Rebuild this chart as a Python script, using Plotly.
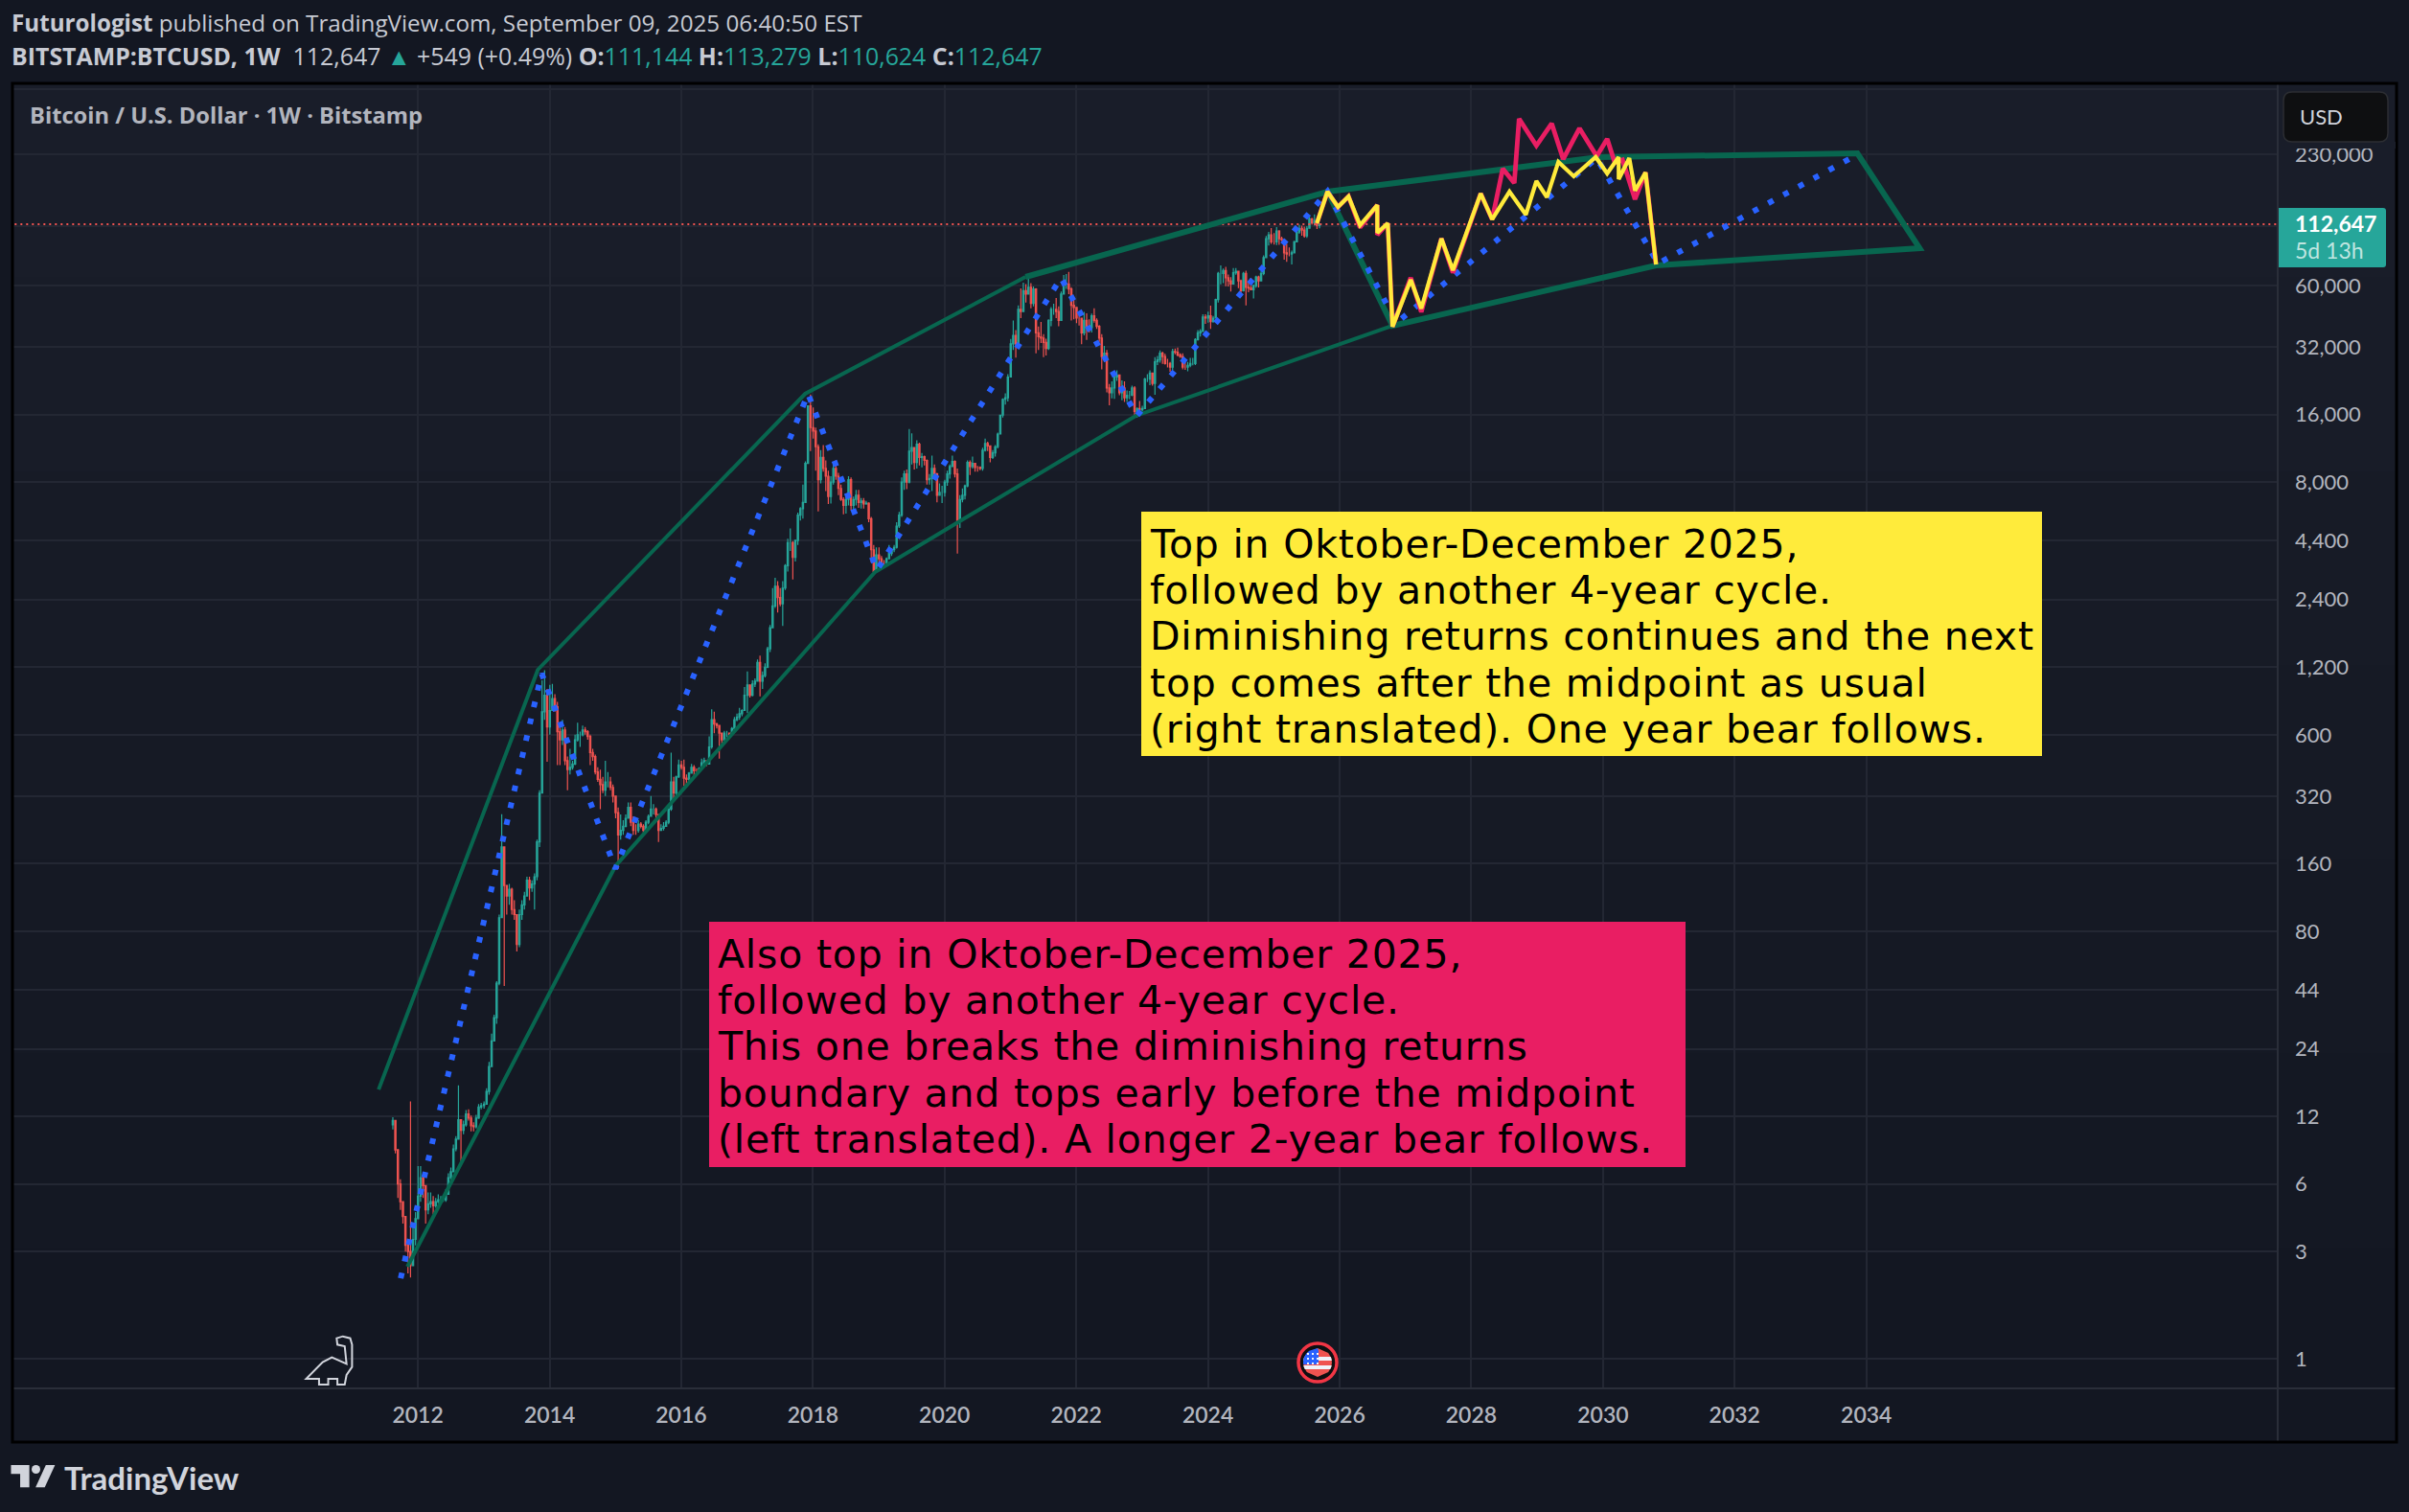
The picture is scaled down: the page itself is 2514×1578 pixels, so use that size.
import math
import datetime as dt
import plotly.graph_objects as go

# ---------- candles: two-weekly bars ----------
YEARS = list(range(2011, 2026))
BARS_PER_YEAR = [10] + [26] * 13 + [19]
FIRST_OPEN = 11.0
closes = [
 11.5,8.5,6.0,5.0,4.3,3.2,3.0,2.6,3.4,4.2,
 5.3,6.4,5.9,4.6,4.9,5.0,4.8,5.0,5.1,5.1,5.1,5.4,6.4,6.8,8.6,9.5,11.6,10.4,11.0,12.3,11.8,10.9,10.8,11.8,13.2,13.4,
 13.6,15.5,20,26,33,47,92,190,128,115,123,100,95,70,95,105,115,135,125,130,140,200,330,760,900,650,
 770,870,800,620,570,630,460,420,430,445,570,600,600,630,620,590,500,480,410,380,360,340,370,370,350,320,
 270,215,225,235,255,285,245,225,225,240,235,225,245,260,280,280,265,225,230,235,245,280,370,330,390,440,
 430,385,380,405,430,415,415,425,450,460,445,530,700,670,660,610,570,610,610,600,640,700,720,745,770,900,
 1000,900,1010,1040,1260,1040,1100,1200,1450,1800,2250,2750,2450,2300,2700,3400,4300,4300,3700,4400,5700,6100,6500,9700,17500,14000,
 13500,11500,8200,10300,9200,8500,6900,8000,9200,8500,7500,6700,6300,6700,8200,6300,6700,7000,6500,6600,6400,6450,5500,4000,3200,3800,
 3650,3500,3500,3650,3850,4000,4100,5100,5700,8000,8700,8000,11000,11400,9800,11800,10300,10400,10000,8200,8300,9200,8700,7000,7200,7200,
 8000,8700,9400,9900,8700,5400,6700,7000,7700,9800,9400,9700,9300,9300,9200,11100,11900,11600,10300,10800,11500,13100,15900,18700,19000,23500,
 33000,36000,33000,47000,46000,57000,55000,59000,50000,58000,37000,35500,35000,33500,31500,42000,47000,47000,46000,42000,55000,61000,61000,58000,49000,48000,
 43000,43000,37000,42000,39000,39000,44000,42000,39500,35000,29000,30000,21000,20000,21000,23500,24000,20000,21000,19000,19500,19500,21000,16500,17000,16800,
 17000,23000,23000,24500,22000,27500,28000,30000,29000,27000,27000,26000,30500,30300,29500,29000,26000,26000,26500,27000,27000,34500,37000,37500,43500,43000,
 44000,41500,43000,52000,68000,68000,70000,65000,63000,61000,68500,69500,63000,57000,68000,59000,58500,57500,60000,65500,63000,68000,80000,97000,101000,94000,
 94000,105000,97000,96000,84000,83000,83000,84000,94000,104000,108000,106000,100000,108000,119000,114000,117000,111000,112647,
]
highs = [
 11.9,11.0,8.6,6.3,5.0,4.2,3.3,14.0,4.0,4.5,
 7.2,7.2,6.6,5.9,5.5,5.5,5.3,5.2,5.4,5.3,5.3,5.7,6.7,7.1,9.0,9.8,16.5,11.5,11.5,12.8,12.9,12.1,11.3,12.2,13.6,13.8,
 14,16,21,28,34,48,95,266,165,125,130,125,110,90,100,110,120,140,140,135,145,205,340,1050,1163,960,
 1000,1010,910,840,680,700,650,480,520,460,600,680,620,660,650,630,600,520,490,430,420,390,460,410,390,360,
 320,285,265,250,265,300,300,260,240,250,245,240,250,265,320,295,285,255,240,245,250,285,500,390,395,465,
 460,465,400,410,445,440,425,430,470,475,460,590,780,760,680,660,610,625,625,610,650,720,745,790,780,980,
 1150,1000,1050,1070,1300,1350,1150,1250,1480,1850,2700,3000,2900,2700,2900,3450,4480,4980,4370,4450,5860,6200,7800,9900,17500,19666,
 17200,14000,11800,11100,11700,10000,9000,8500,9800,9990,8800,7800,6850,6900,8500,8400,6900,7400,7400,6800,6800,6600,6500,5600,4200,4100,
 4100,3750,3600,3700,4200,4050,4200,5300,5900,8400,9000,9100,13800,13200,11100,12300,12000,10800,10500,10100,8700,10500,9600,8800,7900,7700,
 8200,9000,9600,10500,10000,9200,7000,7500,7800,10000,10000,10400,9700,9450,9400,11400,12500,12100,10700,11100,11700,13300,16000,18900,19900,24200,
 34700,41950,38000,49000,58300,61800,61000,64800,61500,59500,58500,39500,41300,36500,34800,42500,48100,49800,52900,48500,56500,66900,67500,69000,59000,51900,
 48000,44400,39000,45800,45200,42500,45000,47500,42900,40000,36500,32300,31000,21900,22500,24200,25200,21900,22700,22500,20500,20400,21500,21400,17200,18400,
 17500,23300,24200,25200,23800,28800,29200,30900,30500,29800,28300,27400,31400,31500,31800,30000,30000,28100,27400,28600,28600,35000,38000,38400,44700,44700,
 46000,48800,44000,52500,69000,73800,71500,72700,67200,65500,71900,71900,70000,63800,69000,70000,61800,64900,60600,66400,66400,69500,81800,99800,104000,108300,
 102700,109400,106000,99000,96500,92000,88700,86000,95000,104300,112000,111000,110000,110500,123200,120000,124500,113500,113279,
]
lows = [
 10.5,8.2,5.2,4.6,4.0,3.0,2.4,2.3,2.6,3.2,
 4.2,5.0,5.2,4.0,4.4,4.7,4.4,4.7,4.9,4.9,5.0,5.0,5.4,6.2,6.8,8.4,9.5,7.5,10.0,10.8,11.5,10.3,10.3,10.6,11.7,12.9,
 13,13.5,15,20,26,31,46,92,45.7,95,105,95,90,65,68,90,100,115,110,120,100,135,190,330,700,455,
 600,770,760,440,440,540,440,340,400,420,440,560,530,590,600,570,440,460,400,370,280,330,320,350,340,300,
 255,152,205,215,232,265,235,215,215,220,230,220,222,240,265,265,255,200,225,225,235,240,275,305,320,385,
 420,355,360,370,405,390,410,410,420,445,435,445,520,610,640,470,550,560,585,590,600,630,690,700,725,770,
 750,880,890,980,1050,890,960,1080,1190,1400,1800,2200,2100,2240,1830,2650,3200,3950,2950,3550,4200,5400,5500,6500,9700,11000,
 12500,9000,5920,7900,8900,7300,6400,6430,7800,8200,7000,6600,5750,5800,6300,6000,5900,6300,6150,6100,6100,6350,5300,3500,3120,3170,
 3400,3400,3350,3400,3700,3750,3900,4050,5000,5600,7400,7450,7900,9600,9100,9200,9500,9300,9500,7800,7800,7300,8700,6500,7000,6450,
 6900,7700,8300,9600,8400,3850,5000,6500,6700,7600,8600,9200,8900,8900,9050,9000,10950,11000,9800,10150,10400,11300,13200,15500,17700,18300,
 28800,31000,28700,33000,43000,46000,50500,55500,47500,48500,30000,31000,33300,28800,29300,31000,39600,44500,43000,39600,41800,55000,58000,55000,42000,42500,
 40800,39800,32900,36000,34400,37100,37100,41000,38500,33700,25400,28800,20100,17600,18900,18800,22600,19500,18500,18200,18200,18700,19300,15500,15500,16300,
 16500,16900,22300,21600,21500,19600,26600,27200,26900,26700,25900,24800,25200,29700,29000,28600,25400,25300,24900,26000,26500,26600,34100,35600,37600,40500,
 41000,38500,41000,42800,50500,60800,61500,59600,59500,56500,60700,67100,58400,53500,56500,49000,56100,57200,52600,58700,58900,65000,66800,80000,90500,92000,
 91500,91000,91200,94500,78200,76500,81000,74500,83500,93500,102000,100000,98200,98000,107500,112000,111000,107300,108000,
]

# ---------- drawings (decimal year, price) ----------
channel_thin_t = [2011.403, 2013.820, 2017.881, 2021.228]
channel_thin_p = [15.8, 1169, 19790, 65600]
channel_low_t = [2026.803, 2022.902, 2018.943, 2014.999, 2011.840]
channel_low_p = [39770, 15790, 3183, 156, 2.57]
channel_wide_t = [2021.228, 2025.814, 2026.803, 2030.806, 2034.809, 2033.863, 2029.933, 2025.814]
channel_wide_p = [65600, 157200, 39770, 73800, 88060, 232900, 224000, 157200]
blue_t = [2011.738, 2013.878, 2014.999, 2017.924, 2018.972, 2021.767, 2022.917, 2025.814, 2026.862, 2029.904, 2030.835, 2033.863]
blue_p = [2.28, 1125, 152, 19790, 3248, 64970, 15790, 157200, 40950, 221800, 75290, 230000]
yellow_t = [2025.653, 2025.814, 2025.974, 2026.134, 2026.309, 2026.571, 2026.572, 2026.731, 2026.803, 2027.080, 2027.240, 2027.546, 2027.721, 2028.143, 2028.317, 2028.579, 2028.827, 2028.987, 2029.147, 2029.321, 2029.555, 2029.889, 2030.063, 2030.237, 2030.238, 2030.399, 2030.486, 2030.646, 2030.806]
yellow_p = [113700, 157200, 134400, 149700, 111500, 137000, 103100, 113700, 39380, 63690, 47440, 97180, 70290, 154200, 118300, 157200, 124200, 175200, 148300, 213300, 184000, 224000, 189500, 224000, 178700, 221800, 158800, 191400, 74520]
pink_t = [2025.653, 2025.814, 2025.974, 2026.134, 2026.309, 2026.571, 2026.572, 2026.731, 2026.803, 2027.080, 2027.240, 2027.546, 2027.721, 2028.143, 2028.317, 2028.477, 2028.652, 2028.725, 2028.987, 2029.220, 2029.394, 2029.642, 2029.904, 2030.063, 2030.180, 2030.296, 2030.486, 2030.646, 2030.806]
pink_p = [113700, 157200, 134400, 149700, 109000, 137000, 101000, 113700, 39380, 65000, 45800, 97180, 68500, 154200, 118300, 199000, 171800, 331800, 252000, 315900, 219600, 300800, 226200, 269900, 211200, 217500, 145400, 191400, 74520]
LAST_PRICE = 112647
LAST_LINE_T = [2005.0, 2041.0]

# ---------- text and ticks ----------
x_tick_years = list(range(2012, 2036, 2))
y_tick_vals = [1, 3, 6, 12, 24, 44, 80, 160, 320, 600, 1200, 2400, 4400, 8000, 16000, 32000, 60000, 110000, 230000, 450000]
y_tick_text = ["1", "3", "6", "12", "24", "44", "80", "160", "320", "600", "1,200", "2,400", "4,400", "8,000", "16,000", "32,000", "60,000", "", "230,000", ""]
yellow_lines = ["Top in Oktober-December 2025,", "followed by another 4-year cycle.", "Diminishing returns continues and the next", "top comes after the midpoint as usual", "(right translated). One year bear follows."]
pink_lines = ["Also top in Oktober-December 2025,", "followed by another 4-year cycle.", "This one breaks the diminishing returns", "boundary and tops early before the midpoint", "(left translated). A longer 2-year bear follows."]

# ---------- helpers ----------
W, H = 2514, 1578
L_, R_, T_, B_ = 14, 2377, 87, 1449
FONT = "Lato"
HEAD = "Open Sans"
BOX = "DejaVu Sans"
TXT = "#b2b5be"


def PX(X):
    return (X - L_) / (R_ - L_)


def PY(Y):
    return 1 - (Y - T_) / (B_ - T_)


def year_to_date(t):
    y = int(math.floor(t))
    days = (dt.date(y + 1, 1, 1) - dt.date(y, 1, 1)).days
    return (dt.datetime(y, 1, 1) + dt.timedelta(days=(t - y) * days)).strftime("%Y-%m-%d %H:%M")


def poly(points, close=True):
    s = "M " + " L ".join(f"{PX(x):.6f},{PY(y):.6f}" for x, y in points)
    return s + (" Z" if close else "")


def rrect(x0, y0, x1, y1, r, left=True):
    rl = r if left else 0
    pts = [("M", x0 + rl, y0), ("L", x1 - r, y0), ("Q", x1, y0, x1, y0 + r), ("L", x1, y1 - r), ("Q", x1, y1, x1 - r, y1), ("L", x0 + rl, y1)]
    if left:
        pts += [("Q", x0, y1, x0, y1 - r), ("L", x0, y0 + r), ("Q", x0, y0, x0 + r, y0)]
    s = ""
    for p in pts:
        c = p[0]
        v = p[1:]
        s += c + " " + " ".join(f"{PX(v[i]):.6f},{PY(v[i + 1]):.6f}" for i in range(0, len(v), 2)) + " "
    return s + "Z"


def rect_shape(x0, y0, x1, y1, fill, line=None, lw=0, layer="above"):
    return dict(type="rect", xref="paper", yref="paper", x0=PX(x0), x1=PX(x1), y0=PY(y1), y1=PY(y0),
                fillcolor=fill, line=dict(color=line or fill, width=lw), layer=layer)


def seg(x0, y0, x1, y1, color, w=1, layer="above"):
    return dict(type="line", xref="paper", yref="paper", x0=PX(x0), x1=PX(x1), y0=PY(y0), y1=PY(y1),
                line=dict(color=color, width=w), layer=layer)


def path_shape(p, fill=None, line=None, lw=0):
    return dict(type="path", xref="paper", yref="paper", path=p, fillcolor=fill or "rgba(0,0,0,0)",
                line=dict(color=line or "rgba(0,0,0,0)", width=lw), layer="above")


def label(X, Y, text, size, color=TXT, anchor="left", weight=None, family=FONT):
    return dict(xref="paper", yref="paper", x=PX(X), y=PY(Y), text=text, showarrow=False, xanchor=anchor,
                yanchor="middle", align="left", borderpad=0,
                font=dict(family=family, size=size, color=color, weight=weight))


# ---------- build ----------
dates = []
for y, n in zip(YEARS, BARS_PER_YEAR):
    start = dt.date(2011, 8, 15) if y == 2011 else dt.date(y, 1, 2)
    dates += [(start + dt.timedelta(days=14 * i)).isoformat() for i in range(n)]
opens = [FIRST_OPEN] + closes[:-1]

fig = go.Figure()
fig.add_trace(go.Candlestick(x=dates, open=opens, high=highs, low=lows, close=closes,
                             increasing=dict(line=dict(color="#26a69a", width=1.2), fillcolor="#26a69a"),
                             decreasing=dict(line=dict(color="#ef5350", width=1.2), fillcolor="#ef5350"),
                             hoverinfo="skip", showlegend=False))


def line(ts, ps, color, width, dash="solid"):
    fig.add_trace(go.Scatter(x=[year_to_date(t) for t in ts], y=ps, mode="lines", hoverinfo="skip", showlegend=False,
                             line=dict(color=color, width=width, dash=dash)))


line(LAST_LINE_T, [LAST_PRICE, LAST_PRICE], "#ef5350", 2, "2px,4px")
GREEN = "#08664f"
line(channel_thin_t, channel_thin_p, GREEN, 4)
line(channel_low_t, channel_low_p, GREEN, 4)
line(channel_wide_t, channel_wide_p, GREEN, 6)
line(blue_t, blue_p, "#2962ff", 6, "6px,12px")
line(pink_t, pink_p, "#e91e63", 4.8)
line(yellow_t, yellow_p, "#ffeb3b", 4.2)

# --- page furniture ---
shapes = []
band_cols = ["#191d29", "#181c28", "#171b26", "#161a25", "#151924", "#141823", "#131722"]
band_h = (1505 - 87) / len(band_cols)
for i, c in enumerate(band_cols):
    shapes.append(rect_shape(14, 87 + i * band_h, 2501, 87 + (i + 1) * band_h + 1, c, layer="below"))
shapes.append(seg(14, 1449, 2501, 1449, "#2a2e39", 2))
shapes.append(seg(2377, 87, 2377, 1505, "#2a2e39", 2))
shapes.append(dict(type="rect", xref="paper", yref="paper", x0=PX(13), x1=PX(2501), y0=PY(1505), y1=PY(87),
                   line=dict(color="#000000", width=3), fillcolor="rgba(0,0,0,0)", layer="above"))
shapes.append(rect_shape(1191, 534, 2131, 789, "#ffeb3b"))
shapes.append(rect_shape(740, 962, 1759, 1218, "#e91e63"))
shapes.append(path_shape(rrect(2378, 217, 2490, 279, 3, left=False), fill="#26a69a"))
shapes.append(rect_shape(2378, 148, 2500, 155, "#191d29"))
shapes.append(path_shape(rrect(2383, 96, 2492, 148, 9), fill="#0e0f11", line="#2c2e33", lw=1.5))

# dino icon
dz = [(835, 177), (880, 125), (905, 110), (945, 130), (940, 75), (920, 70), (918, 50), (935, 44), (955, 50), (960, 70),
      (960, 140), (945, 165), (940, 195), (920, 195), (920, 177), (895, 177), (895, 195), (870, 195), (870, 177)]
shapes.append(path_shape(poly([(x / 2.613, 1380 + y / 3) for x, y in dz]), line="#d1d4dc", lw=2))

# logo mark
m1 = [(30, 447), (80, 447), (80, 517), (55, 517), (55, 475), (30, 475)]
m2 = [(125, 447), (150, 447), (122, 517), (97, 517)]
for m in (m1, m2):
    shapes.append(path_shape(poly([(x / 2.613, 1380 + y / 3) for x, y in m]), fill="#d1d4dc"))
shapes.append(dict(type="circle", xref="paper", yref="paper", x0=PX(33), x1=PX(42), y0=PY(1538), y1=PY(1529),
                   fillcolor="#d1d4dc", line=dict(width=0), layer="above"))

# flag icon
cx, cy = 1375, 1422
shapes.append(dict(type="circle", xref="paper", yref="paper", x0=PX(cx - 20), x1=PX(cx + 20), y0=PY(cy + 20), y1=PY(cy - 20),
                   fillcolor="#0e0f11", line=dict(color="#f23645", width=3.5), layer="above"))


def disc_band(y0, y1, xmax=None, r=15):
    ys = [y0 + (y1 - y0) * k / 6 for k in range(7)]
    left = [(cx - math.sqrt(max(r * r - u * u, 0)), cy + u) for u in ys]
    right = [(min(cx + math.sqrt(max(r * r - u * u, 0)), cx + xmax if xmax is not None else 1e9), cy + u) for u in reversed(ys)]
    return poly(left + right)


shapes.append(path_shape(disc_band(-15, 15), fill="#ef5350"))
shapes.append(path_shape(disc_band(-6, -2), fill="#f0f3fa"))
shapes.append(path_shape(disc_band(3, 7), fill="#f0f3fa"))
shapes.append(path_shape(disc_band(-15, 2, xmax=1), fill="#2962ff"))
for sy in (-10, -5, 0):
    for sx in (-11, -6, -1):
        shapes.append(rect_shape(cx + sx, cy + sy, cx + sx + 2, cy + sy + 2, "#f0f3fa"))

G = "#26a69a"
HC = "#c7cad3"
annotations = [
    label(11, 24, '<b>Futurologist</b> published on TradingView.com, September 09, 2025 06:40:50 EST', 24.2, HC, family=HEAD),
    label(11, 58, f'<b>BITSTAMP:BTCUSD, 1W</b>  112,647 <span style="color:{G}">▲</span> +549 (+0.49%) <b>O:</b><span style="color:{G}">111,144</span> <b>H:</b><span style="color:{G}">113,279</span> <b>L:</b><span style="color:{G}">110,624</span> <b>C:</b><span style="color:{G}">112,647</span>', 24.9, HC, family=HEAD),
    label(30, 120, "<b>Bitcoin / U.S. Dollar · 1W · Bitstamp</b>", 23.7, "#b2b5be", family=HEAD),
    label(2399, 122, "USD", 22, "#d1d4dc"),
    label(2394, 233, "<b>112,647</b>", 23, "#ffffff"),
    label(2394, 261, "5d 13h", 23, "#bfe5e0"),
    label(66, 1542, "<b>TradingView</b>", 33, "#d1d4dc"),
]
SPACED = '<span style="letter-spacing:0.8px">{}</span>'
for i, txt in enumerate(yellow_lines):
    annotations.append(label(1199, [568, 616, 664, 713, 761][i], SPACED.format(txt), 41, "#000000", family=BOX))
for i, txt in enumerate(pink_lines):
    annotations.append(label(748, [996, 1044, 1092, 1141, 1189][i], SPACED.format(txt), 41, "#000000", family=BOX))

fig.update_layout(
    width=W, height=H, autosize=False,
    margin=dict(l=L_, r=W - R_, t=T_, b=H - B_, pad=0),
    paper_bgcolor="#131722", plot_bgcolor="rgba(0,0,0,0)",
    showlegend=False, shapes=shapes, annotations=annotations,
    xaxis=dict(type="date", range=["2005-11-09", "2040-04-01"], rangeslider=dict(visible=False),
               tickvals=[f"{y}-01-01" for y in x_tick_years], ticktext=[str(y) for y in x_tick_years],
               showgrid=True, gridcolor="#232733", gridwidth=2, zeroline=False, showline=False, ticks="",
               tickfont=dict(family=FONT, size=23, color=TXT, weight=600), ticklabelstandoff=12),
    yaxis=dict(type="log", side="right", range=[-0.132, 5.6787], tickmode="array",
               tickvals=y_tick_vals, ticktext=y_tick_text, showgrid=True, gridcolor="#232733", gridwidth=2,
               zeroline=False, showline=False, ticks="", tickfont=dict(family=FONT, size=22, color=TXT),
               ticklabelstandoff=17),
)

fig.write_html("out.html", config=dict(displayModeBar=False),
               post_script="document.body.style.margin='0';document.body.style.overflow='hidden';")
